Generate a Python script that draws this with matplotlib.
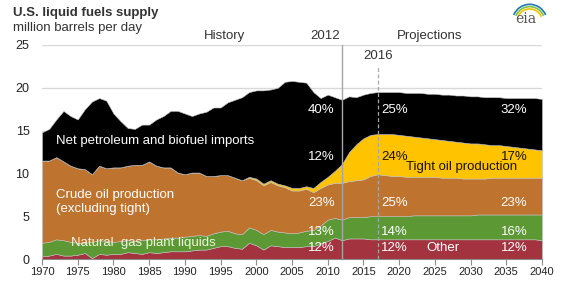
import matplotlib
matplotlib.use("Agg")
import matplotlib.pyplot as plt
from matplotlib.patches import Arc

plt.rcParams["font.family"] = ["Liberation Sans", "DejaVu Sans"]

years = list(range(1970, 2041))

other = [0.3, 0.4, 0.6, 0.4, 0.4, 0.5, 0.7, 0.1, 0.6, 0.5,
         0.6, 0.6, 0.8, 0.7, 0.6, 0.8, 0.7, 0.8, 0.9, 0.9,
         0.9, 1.0, 1.1, 1.1, 1.3, 1.5, 1.5, 1.3, 1.2, 1.9,
         1.6, 1.1, 1.6, 1.5, 1.4, 1.4, 1.4, 1.5, 1.5, 1.8,
         2.1, 2.5, 2.2, 2.4, 2.4, 2.4, 2.3, 2.3, 2.3, 2.3,
         2.3, 2.3, 2.3, 2.3, 2.3, 2.3, 2.3, 2.3, 2.3, 2.3,
         2.3, 2.3, 2.3, 2.3, 2.3, 2.3, 2.3, 2.3, 2.3, 2.3,
         2.2]
ngl = [1.6, 1.6, 1.7, 1.8, 1.6, 1.4, 1.2, 1.9, 1.6, 1.6,
       1.4, 1.5, 1.4, 1.4, 1.6, 1.5, 1.6, 1.6, 1.6, 1.6,
       1.7, 1.7, 1.7, 1.6, 1.7, 1.7, 1.8, 1.7, 1.7, 1.8,
       1.8, 1.8, 1.8, 1.7, 1.7, 1.6, 1.7, 1.8, 1.9, 2.1,
       2.5, 2.3, 2.4, 2.5, 2.5, 2.5, 2.7, 2.7, 2.7, 2.7,
       2.7, 2.7, 2.8, 2.8, 2.8, 2.8, 2.8, 2.8, 2.8, 2.8,
       2.8, 2.9, 2.9, 2.9, 2.9, 2.9, 2.9, 2.9, 2.9, 2.9,
       3.0]
crude = [9.6, 9.5, 9.6, 9.2, 8.9, 8.7, 8.6, 7.9, 8.7, 8.5,
         8.7, 8.6, 8.7, 8.9, 8.8, 9.1, 8.6, 8.3, 8.2, 7.6,
         7.3, 7.4, 7.3, 7.0, 6.7, 6.6, 6.5, 6.5, 6.3, 5.8,
         5.8, 5.7, 5.6, 5.4, 5.3, 5.0, 4.9, 4.9, 4.4, 4.4,
         4.1, 4.1, 4.3, 4.2, 4.3, 4.4, 4.7, 4.9, 4.8, 4.7,
         4.7, 4.6, 4.5, 4.5, 4.5, 4.5, 4.4, 4.4, 4.4, 4.3,
         4.3, 4.2, 4.2, 4.3, 4.3, 4.3, 4.3, 4.3, 4.3, 4.3,
         4.3]
tight = [0.0, 0.0, 0.0, 0.0, 0.0, 0.0, 0.0, 0.0, 0.0, 0.0,
         0.0, 0.0, 0.0, 0.0, 0.0, 0.0, 0.0, 0.0, 0.0, 0.0,
         0.0, 0.0, 0.0, 0.0, 0.0, 0.0, 0.0, 0.0, 0.0, 0.1,
         0.2, 0.2, 0.2, 0.2, 0.2, 0.3, 0.3, 0.3, 0.5, 0.7,
         0.9, 1.4, 2.2, 3.4, 4.2, 4.8, 4.8, 4.7, 4.8, 4.9,
         4.8, 4.8, 4.7, 4.6, 4.5, 4.4, 4.4, 4.3, 4.2, 4.2,
         4.1, 4.1, 4.0, 3.8, 3.8, 3.7, 3.6, 3.5, 3.4, 3.3,
         3.2]
imports = [3.3, 3.7, 4.4, 5.9, 5.8, 5.7, 7.0, 8.5, 7.9, 7.9,
           6.3, 5.4, 4.4, 4.2, 4.7, 4.3, 5.4, 6.0, 6.6, 7.2,
           7.1, 6.6, 6.9, 7.5, 8.0, 7.9, 8.5, 9.1, 9.7, 9.9,
           10.3, 10.9, 10.6, 11.2, 12.1, 12.5, 12.4, 12.1, 11.2, 9.8,
           9.6, 8.6, 7.5, 6.5, 5.5, 5.1, 4.9, 4.9, 4.9, 4.9,
           5.0, 5.0, 5.1, 5.2, 5.2, 5.3, 5.3, 5.4, 5.4, 5.5,
           5.5, 5.5, 5.5, 5.6, 5.6, 5.6, 5.7, 5.8, 5.9, 6.0,
           6.0]

pct_years = [2012, 2017, 2040]
pct_other = ["12%", "12%", "12%"]
pct_ngl = ["13%", "14%", "16%"]
pct_crude = ["23%", "25%", "23%"]
pct_tight = ["12%", "24%", "17%"]
pct_imports = ["40%", "25%", "32%"]

col_other = "#a3333f"
col_ngl = "#5c9934"
col_crude = "#be742e"
col_tight = "#ffc300"
col_imports = "#000000"

FS = 9.5

fig = plt.figure(figsize=(5.77, 2.89), dpi=100)
ax = fig.add_axes([0.0728, 0.1038, 0.8665, 0.7405])

ax.set_xlim(1970, 2040)
ax.set_ylim(0, 25)
for v in [5, 10, 15, 20, 25]:
    ax.axhline(v, color="#d9d9d9", lw=1.0, zorder=0)

ax.stackplot(years, other, ngl, crude, tight, imports,
             colors=[col_other, col_ngl, col_crude, col_tight, col_imports],
             edgecolor="#bfbfbf", linewidth=0.4, zorder=2)

# reference lines
ax.plot([2012, 2012], [0, 25], color="#a6a6a6", lw=1.0, zorder=3, clip_on=False)
ax.plot([2017, 2017], [0, 22.4], color="#a6a6a6", lw=0.9, ls=(0, (3, 2)), zorder=3, clip_on=False)

for s in ["top", "right", "left"]:
    ax.spines[s].set_visible(False)
ax.spines["bottom"].set_color("#8c8c8c")
ax.spines["bottom"].set_zorder(4)

ax.set_xticks(list(range(1970, 2041, 5)))
ax.set_yticks([0, 5, 10, 15, 20, 25])
ax.tick_params(axis="x", length=4, color="#8c8c8c", labelsize=8, labelcolor="#222222", pad=2)
ax.tick_params(axis="y", length=0, labelsize=9, labelcolor="#222222", pad=9)

# header texts
fig.text(0.023, 0.955, "U.S. liquid fuels supply", fontsize=9.5, fontweight="bold",
         color="#333333", va="center", ha="left")
fig.text(0.023, 0.903, "million barrels per day", fontsize=9.5, color="#333333",
         va="center", ha="left")

ax.text(1995.6, 26.1, "History", fontsize=FS, color="#333333", ha="center", va="center", clip_on=False)
ax.text(2009.6, 26.1, "2012", fontsize=FS, color="#333333", ha="center", va="center", clip_on=False)
ax.text(2024.3, 26.1, "Projections", fontsize=FS, color="#333333", ha="center", va="center", clip_on=False)
ax.text(2017.1, 23.7, "2016", fontsize=FS, color="#333333", ha="center", va="center", clip_on=False)

# series labels
ax.text(1972, 13.8, "Net petroleum and biofuel imports", fontsize=FS, color="white", va="center", zorder=5)
ax.text(1972, 7.5, "Crude oil production", fontsize=FS, color="white", va="center", zorder=5)
ax.text(1972, 5.85, "(excluding tight)", fontsize=FS, color="white", va="center", zorder=5)
ax.text(1974.1, 1.9, "Natural  gas plant liquids", fontsize=FS, color="#f0f5dc", va="center", zorder=5)
ax.text(2021.0, 10.7, "Tight oil production", fontsize=FS, color="#1a1200", va="center", zorder=5)
ax.text(2026.2, 1.3, "Other", fontsize=FS, color="white", ha="center", va="center", zorder=5)

# percentage labels
pct_x = [2009.1, 2019.3, 2036.1]
for i, xx in enumerate(pct_x):
    ax.text(xx, 17.35, pct_imports[i], fontsize=FS, color="white", ha="center", va="center", zorder=5)
    ax.text(xx, 11.97, pct_tight[i], fontsize=FS,
            color="white" if i == 0 else "#1a1200", ha="center", va="center", zorder=5)
    ax.text(xx, 6.6, pct_crude[i], fontsize=FS, color="white", ha="center", va="center", zorder=5)
    ax.text(xx, 3.2, pct_ngl[i], fontsize=FS, color="white", ha="center", va="center", zorder=5)
    ax.text(xx, 1.25, pct_other[i], fontsize=FS, color="white", ha="center", va="center", zorder=5)

# eia logo
fig.text(0.912, 0.935, "eia", fontsize=10, family="DejaVu Serif", color="#555555",
         ha="center", va="center")
for r, c in [(0.030, "#1f77b4"), (0.026, "#7dc242"), (0.022, "#f2c200")]:
    arc = Arc((0.918, 0.925), r * 2, r * 4, theta1=40, theta2=140, color=c, lw=1.2,
              transform=fig.transFigure)
    fig.add_artist(arc)

fig.savefig("out.png", dpi=100)
